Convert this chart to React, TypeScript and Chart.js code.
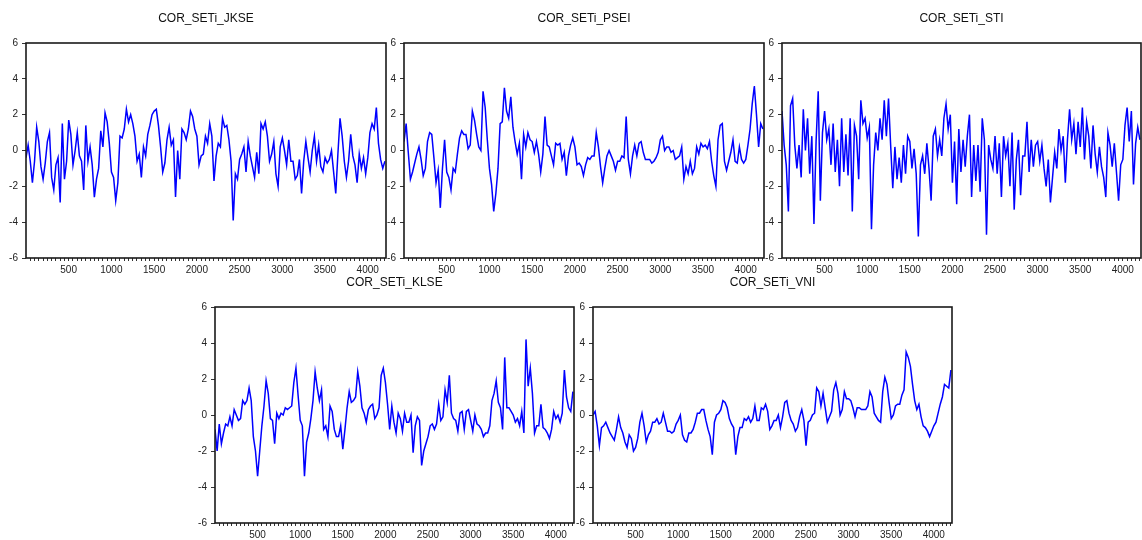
import React, { useEffect, useRef } from 'react';
import { Chart, registerables } from 'chart.js';

Chart.register(...registerables);

// ---- data -------------------------------------------------------------
const STEP = 25; // observations between samples
const X_MIN = 1;
const X_MAX = 4214;
const X_LABEL_EVERY = 500;
const X_MINOR_EVERY = 50;
const Y_MIN = -6;
const Y_MAX = 6;
const Y_STEP = 2;

const titles = ['COR_SETi_JKSE', 'COR_SETi_PSEI', 'COR_SETi_STI', 'COR_SETi_KLSE', 'COR_SETi_VNI'];

const jkse = [
  -0.4, 0.3, -0.6, -1.8, -0.6, 1.3, 0.5, -0.9, -1.6, -0.7, 0.5, 1.0, -1.5, -2.2, -0.8, -0.4, -2.9, 1.5, -1.6, -0.6,
  1.7, 0.9, -0.8, 0.0, 1.0, -0.3, -0.6, -2.2, 1.4, -0.6, 0.2, -0.8, -2.6, -1.6, -1.0, 1.1, 0.2, 2.1, 1.6, 0.4,
  -1.2, -1.5, -2.8, -1.8, 0.8, 0.7, 1.2, 2.3, 1.6, 2.0, 1.5, 0.8, -0.6, -0.2, -1.5, 0.2, -0.3, 0.9, 1.4, 2.0,
  2.2, 2.3, 1.4, 0.2, -1.2, -0.7, 0.6, 1.3, 0.3, 0.6, -2.6, 0.0, -1.6, 1.2, 1.0, 0.6, 1.2, 2.2, 1.9, 1.2,
  0.8, -0.8, -0.3, -0.2, 0.8, 0.4, 1.5, 0.8, -1.7, -0.3, 0.4, 0.2, 1.8, 1.3, 1.4, 0.6, -0.6, -3.9, -1.3, -1.6,
  -0.5, -0.2, 0.2, -1.2, 0.5, -0.3, -0.9, -1.5, -0.1, -1.3, 1.5, 1.2, 1.6, 0.8, -0.6, -0.2, 0.5, -1.3, -2.0, 0.2,
  0.7, 0.0, -0.8, 0.6, -0.6, -0.6, -1.6, -1.4, -0.5, -2.4, -0.6, 0.5, -0.4, -1.2, 0.0, 0.8, -0.6, 0.3, -0.9, -1.2,
  -0.4, -0.7, -0.5, 0.0, -1.2, -2.4, -0.2, 1.8, 0.8, -0.6, -1.5, -0.6, 0.9, -0.3, -0.8, -1.8, -0.2, -1.0, -0.4, -1.3,
  -0.4, 1.0, 1.5, 1.2, 2.4, 0.4, -0.5, -1.0, -0.6,
];

const psei = [
  0.5, 1.5, -0.1, -1.6, -1.2, -0.7, -0.2, 0.2, -0.5, -1.4, -1.0, 0.5, 1.0, 0.9, -0.4, -1.8, -1.1, -3.2, -1.0, 0.6,
  -1.2, -1.5, -2.2, -1.0, -1.2, -0.2, 0.7, 1.1, 0.9, 0.9, 0.1, 0.3, 2.2, 1.7, 0.9, 0.2, 0.0, 3.3, 2.4, 0.6,
  -1.0, -1.9, -3.4, -2.4, -1.0, 1.5, 1.6, 3.5, 2.2, 1.8, 3.0, 1.3, 0.5, -0.2, 0.4, -1.6, 0.9, 0.2, 1.0, 0.6,
  0.5, -0.1, 0.5, -0.2, -1.2, -0.2, 1.9, 0.3, 0.2, -0.3, -0.8, 0.4, 0.3, 0.4, -0.5, -0.1, -1.4, -0.3, 0.3, 0.7,
  0.2, -0.8, -0.7, -0.9, -1.4, -0.8, -0.4, -0.5, -0.3, -0.3, 1.0, 0.2, -0.9, -1.8, -1.0, -0.3, 0.0, -0.3, -0.6, -1.1,
  -0.6, -0.6, -0.3, -0.4, 1.9, -0.5, -1.3, -0.3, 0.3, -0.3, 0.4, 0.5, -0.1, -0.5, -0.5, -0.5, -0.7, -0.6, -0.4, -0.1,
  0.6, 0.8, 0.0, 0.2, 0.2, -0.1, 0.0, -0.5, -0.4, -0.3, 0.2, -1.6, -0.9, -1.3, -0.6, -1.3, -1.0, 0.2, -0.2, 0.4,
  0.2, 0.3, 0.1, 0.5, -0.6, -1.4, -2.0, 0.6, 1.4, 1.5, -0.6, -1.1, -0.6, -0.1, 0.6, -0.6, -0.7, 0.2, -0.5, -0.7,
  -0.5, 0.3, 1.2, 2.6, 3.6, 2.0, 0.2, 1.5, 1.2,
];

const sti = [
  2.2, 0.3, -0.8, -3.4, 2.5, 2.9, 0.3, -1.0, 0.3, -1.5, 2.3, 0.0, 1.8, -1.3, 0.8, -4.1, 0.5, 3.3, -2.8, 1.0,
  2.2, 0.6, 1.2, -0.8, 1.5, -1.2, 0.6, -2.0, 1.8, -1.2, 0.9, -1.4, 1.8, -3.4, 1.4, 0.8, -1.6, 2.8, 1.5, 1.8,
  0.7, 1.3, -4.4, -0.8, 1.0, 0.0, 1.8, 0.6, 2.8, 0.8, 2.9, 0.3, -2.1, 0.2, -1.6, -0.4, -1.8, 0.3, -1.3, 0.8,
  0.5, -1.0, 0.1, -1.3, -4.8, -0.8, -0.3, -1.3, 0.4, -1.0, -2.8, 0.8, 1.2, -0.3, 0.6, -0.3, 1.8, 2.6, 1.2, 2.0,
  -1.8, 0.5, -3.0, 1.2, -1.2, 0.6, -0.9, 0.8, 2.0, -2.6, 0.3, -1.7, 0.3, -2.3, 1.8, 0.6, -4.7, 0.3, -0.5, -1.0,
  0.8, -1.3, 0.4, -2.6, 0.8, -0.3, 0.4, -2.0, 1.0, -3.3, -0.5, 0.6, -2.5, -0.3, -0.3, 1.6, -1.2, 0.6, -0.9, 0.3,
  0.5, -0.6, 0.3, -1.0, -2.0, -0.5, -2.9, -1.5, -0.1, -1.0, 1.2, 0.0, 0.8, -1.8, 0.6, 2.3, 0.6, 1.5, -0.2, 1.6,
  0.2, 2.4, -0.5, 1.6, 0.8, -1.0, 1.4, -0.2, -1.2, 0.2, -0.9, -1.5, -2.6, 1.0, 0.3, -0.9, 0.4, -1.2, -2.8, -0.8,
  -0.5, 1.4, 2.4, 0.5, 2.2, -1.9, 0.4, 1.3, 0.6,
];

const klse = [
  -0.8, -2.0, -0.5, -1.6, -1.0, -0.5, -0.6, -0.1, -0.6, 0.3, 0.0, -0.3, -0.2, 0.8, 0.6, 0.8, 1.5, 0.8, -1.2, -2.0,
  -3.4, -2.0, -0.6, 0.5, 1.9, 1.2, -0.2, -0.3, -1.6, 0.1, -0.2, 0.1, 0.0, 0.4, 0.3, 0.4, 0.5, 1.8, 2.6, 1.1,
  -0.3, -0.6, -3.4, -1.5, -1.0, -0.2, 0.8, 2.4, 1.5, 0.8, 1.4, -0.8, -0.6, -1.2, 0.5, 0.2, -0.8, -1.2, -1.2, -0.6,
  -1.9, -0.8, 0.4, 1.3, 0.7, 0.8, 1.0, 2.4, 1.6, 0.4, 0.1, -0.4, 0.3, 0.5, 0.6, -0.2, 0.0, 0.4, 2.2, 2.6,
  1.8, 0.6, -0.8, 0.5, -0.4, -1.0, 0.1, -0.2, -0.9, 0.1, -0.4, -0.4, 0.0, -2.1, -0.6, -0.1, -0.3, -2.8, -2.0, -1.6,
  -1.2, -0.6, -0.5, -0.8, -0.5, 0.6, -0.3, -0.1, 1.4, 0.7, 2.2, 0.1, -0.2, -0.3, -0.9, 0.1, 0.2, -0.8, 0.2, 0.3,
  -0.3, -0.9, 0.0, -0.5, -0.6, -0.8, -1.2, -1.0, -1.0, -0.6, 0.8, 1.2, 1.9, 0.7, 0.4, -0.8, 3.2, 0.4, 0.4, 0.2,
  0.0, -0.4, -0.2, -0.6, 0.2, -1.0, 4.2, 1.6, 2.6, 1.2, -1.0, -0.6, -0.6, 0.6, -0.7, -0.8, -1.0, -1.3, -0.8, 0.2,
  -0.2, 0.0, -0.4, 0.1, 2.5, 1.0, 0.4, 0.2, 1.3,
];

const vni = [
  0.0, 0.2, -0.6, -1.7, -0.7, -0.6, -0.4, -0.7, -1.0, -1.2, -1.4, -0.8, -0.1, -0.7, -1.0, -1.5, -1.8, -1.1, -1.3, -2.0,
  -1.8, -1.3, -0.4, 0.1, -0.6, -1.5, -1.1, -0.9, -0.4, -0.4, -0.2, -0.5, -0.4, 0.1, -0.4, -0.9, -0.9, -1.0, -0.9, -0.5,
  -0.3, 0.0, -1.1, -1.4, -1.5, -1.0, -1.0, -0.8, -0.4, 0.1, 0.1, 0.3, 0.3, -0.3, -0.8, -1.2, -2.2, -0.4, 0.0, 0.1,
  0.3, 0.8, 0.7, 0.4, -0.2, -0.5, -0.7, -2.2, -1.2, -0.7, -0.7, -0.2, -0.3, -0.1, -0.4, -0.2, 0.5, -0.3, -0.3, 0.4,
  0.3, 0.6, 0.2, -0.8, -0.6, -0.3, -0.3, 0.0, -0.7, -0.1, 0.7, 0.8, 0.1, -0.3, -0.5, -0.9, -0.7, -0.1, 0.3, -0.3,
  -1.7, -0.4, -0.3, 0.0, 0.1, 1.5, 1.3, 0.5, 1.2, 0.4, -0.4, -0.1, 0.2, 1.4, 1.8, 1.2, 0.0, 0.3, 1.3, 0.9,
  0.9, 0.8, 0.4, -0.1, 0.4, 0.4, 0.3, 0.3, 0.3, 0.5, 1.3, 1.0, 0.1, -0.1, -0.3, -0.4, 1.3, 2.1, 1.7, 0.7,
  -0.2, 0.0, 0.5, 0.6, 0.6, 1.1, 1.4, 3.5, 3.2, 2.7, 1.7, 0.8, 0.3, 0.6, -0.1, -0.6, -0.7, -0.9, -1.2, -0.9,
  -0.6, -0.4, 0.1, 0.6, 1.0, 1.7, 1.6, 1.5, 2.5,
];

const seriesList = [jkse, psei, sti, klse, vni];

// ---- layout (plot-area boxes on the page) ------------------------------
const PANELS = [
  { left: 26, top: 43, width: 360, height: 215 },
  { left: 404, top: 43, width: 360, height: 215 },
  { left: 782, top: 43, width: 359, height: 215 },
  { left: 215, top: 307, width: 359, height: 216 },
  { left: 593, top: 307, width: 359, height: 216 },
];

const PAD_L = 44;
const PAD_T = 40;
const PAD_R = 10;
const PAD_B = 40;
const Y_AXIS_W = 34;
const X_AXIS_H = 30;
const TICK_FONT = "'Liberation Sans Narrow', 'Liberation Sans', Arial, sans-serif";
const TITLE_FONT = "'Liberation Sans', Arial, sans-serif";

const frameAndTitle = {
  id: 'frameAndTitle',
  afterDatasetsDraw(chart: any, _args: any, opts: any) {
    const { ctx, chartArea } = chart;
    const { left, right, top, bottom } = chartArea;
    ctx.save();
    ctx.strokeStyle = '#1a1a1a';
    ctx.lineWidth = 1.6;
    ctx.strokeRect(left, top, right - left, bottom - top);
    ctx.fillStyle = '#111';
    ctx.font = `12px ${TITLE_FONT}`;
    ctx.textAlign = 'center';
    ctx.textBaseline = 'middle';
    ctx.fillText(opts.text, (left + right) / 2, top - 24.5);
    ctx.restore();
  },
};

function Panel({ index }: { index: number }) {
  const ref = useRef<HTMLCanvasElement | null>(null);
  const p = PANELS[index];
  const cw = PAD_L + p.width + PAD_R;
  const ch = PAD_T + p.height + PAD_B;

  useEffect(() => {
    if (!ref.current) return;
    const values = seriesList[index];
    const points = values.map((v, i) => ({ x: X_MIN + i * STEP, y: v }));
    const chart = new Chart(ref.current, {
      type: 'line',
      data: {
        datasets: [
          {
            data: points,
            borderColor: '#0000ff',
            borderWidth: 1.5,
            pointRadius: 0,
            tension: 0,
            fill: false,
          },
        ],
      },
      options: {
        responsive: false,
        animation: false,
        devicePixelRatio: 1,
        layout: {
          padding: { left: PAD_L - Y_AXIS_W, top: PAD_T, right: PAD_R, bottom: PAD_B - X_AXIS_H },
        },
        plugins: {
          legend: { display: false },
          tooltip: { enabled: false },
          title: { display: false },
          frameAndTitle: { text: titles[index] },
        } as any,
        scales: {
          x: {
            type: 'linear',
            min: X_MIN,
            max: X_MAX,
            afterBuildTicks: (scale: any) => {
              const ticks = [];
              for (let v = X_MINOR_EVERY; v <= X_MAX; v += X_MINOR_EVERY) ticks.push({ value: v });
              scale.ticks = ticks;
            },
            afterFit: (scale: any) => {
              scale.height = X_AXIS_H;
            },
            ticks: {
              autoSkip: false,
              maxRotation: 0,
              minRotation: 0,
              padding: 3,
              color: '#222',
              font: { size: 10, family: TICK_FONT },
              callback: (v: any) => (Number(v) % X_LABEL_EVERY === 0 ? String(v) : ''),
            },
            grid: { drawOnChartArea: false, drawTicks: true, tickLength: 3, color: '#333', lineWidth: 1 },
            border: { display: false },
          },
          y: {
            type: 'linear',
            min: Y_MIN,
            max: Y_MAX,
            afterFit: (scale: any) => {
              scale.width = Y_AXIS_W;
            },
            ticks: {
              stepSize: Y_STEP,
              padding: 4,
              color: '#222',
              font: { size: 10, family: TICK_FONT },
            },
            grid: { drawOnChartArea: false, drawTicks: true, tickLength: 4, color: '#333', lineWidth: 1 },
            border: { display: false },
          },
        },
      },
      plugins: [frameAndTitle],
    });
    return () => chart.destroy();
  }, [index]);

  return (
    <canvas
      ref={ref}
      width={cw}
      height={ch}
      style={{
        position: 'absolute',
        left: p.left - PAD_L,
        top: p.top - PAD_T,
        width: cw,
        height: ch,
        display: 'block',
      }}
    />
  );
}

export default function App() {
  return (
    <div
      style={{
        position: 'absolute',
        left: 0,
        top: 0,
        width: 1142,
        height: 540,
        background: '#ffffff',
        overflow: 'hidden',
      }}
    >
      {PANELS.map((_, i) => (
        <Panel key={i} index={i} />
      ))}
    </div>
  );
}
